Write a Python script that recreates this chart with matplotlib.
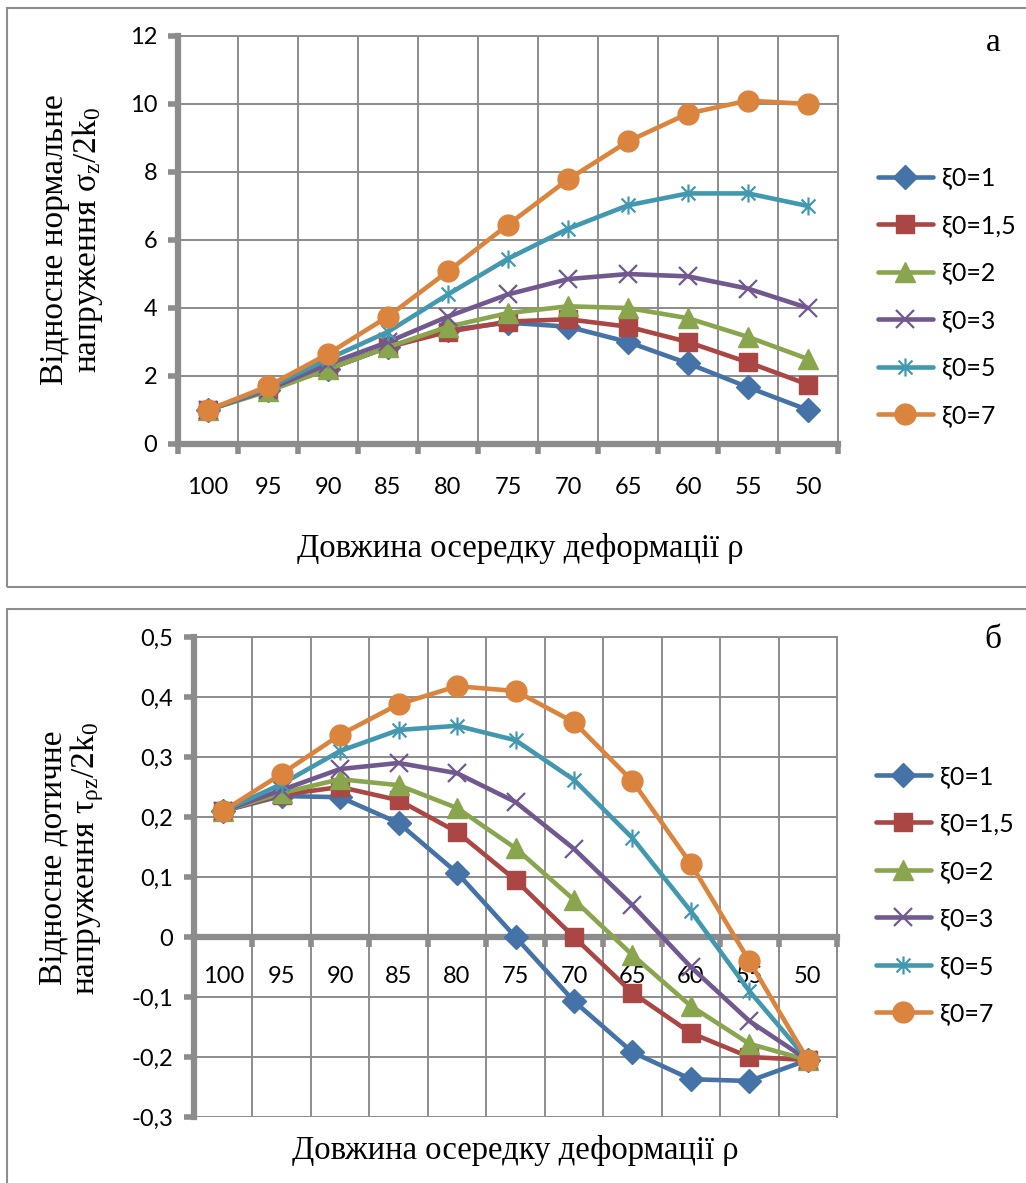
import matplotlib
matplotlib.use('Agg')
from matplotlib import pyplot as plt
from matplotlib.patches import Rectangle
from matplotlib.path import Path
import numpy as np

# дані (зчитані з графіків)
rho = ['100', '95', '90', '85', '80', '75', '70', '65', '60', '55', '50']
labels = ['ξ0=1', 'ξ0=1,5', 'ξ0=2', 'ξ0=3', 'ξ0=5', 'ξ0=7']

sigma_1 = [1.0, 1.6, 2.2, 2.85, 3.35, 3.57, 3.45, 3.0, 2.37, 1.67, 1.0]
sigma_15 = [1.0, 1.6, 2.2, 2.85, 3.3, 3.6, 3.67, 3.45, 3.0, 2.4, 1.75]
sigma_2 = [1.0, 1.55, 2.2, 2.85, 3.45, 3.85, 4.05, 4.0, 3.7, 3.15, 2.5]
sigma_3 = [1.0, 1.6, 2.35, 3.0, 3.75, 4.4, 4.85, 5.0, 4.93, 4.57, 4.0]
sigma_5 = [1.0, 1.65, 2.5, 3.3, 4.4, 5.45, 6.33, 7.02, 7.37, 7.37, 7.0]
sigma_7 = [1.0, 1.7, 2.65, 3.75, 5.08, 6.45, 7.78, 8.9, 9.72, 10.1, 10.0]

tau_1 = [0.21, 0.235, 0.233, 0.19, 0.107, 0.0, -0.107, -0.192, -0.237, -0.24, -0.205]
tau_15 = [0.21, 0.237, 0.25, 0.228, 0.175, 0.095, 0.0, -0.093, -0.16, -0.2, -0.205]
tau_2 = [0.21, 0.24, 0.263, 0.253, 0.215, 0.148, 0.062, -0.03, -0.115, -0.178, -0.205]
tau_3 = [0.21, 0.245, 0.28, 0.29, 0.273, 0.225, 0.147, 0.053, -0.05, -0.14, -0.205]
tau_5 = [0.21, 0.255, 0.31, 0.345, 0.352, 0.328, 0.262, 0.165, 0.043, -0.09, -0.205]
tau_7 = [0.21, 0.272, 0.337, 0.388, 0.418, 0.41, 0.358, 0.26, 0.122, -0.04, -0.205]

sigma = [sigma_1, sigma_15, sigma_2, sigma_3, sigma_5, sigma_7]
tau = [tau_1, tau_15, tau_2, tau_3, tau_5, tau_7]

sigma_ticks = ['0', '2', '4', '6', '8', '10', '12']
tau_ticks = ['-0,3', '-0,2', '-0,1', '0', '0,1', '0,2', '0,3', '0,4', '0,5']

colors = ['#4572A7', '#AA4643', '#89A54E', '#71588F', '#4198AF', '#DB843D']

# маркер-зірочка як в Excel (x + вертикальна риска)
star = Path([(-1, -1), (1, 1), (-1, 1), (1, -1), (0, -1.3), (0, 1.3)],
            [Path.MOVETO, Path.LINETO, Path.MOVETO, Path.LINETO, Path.MOVETO, Path.LINETO])
markers = [('D', 12), ('s', 13), ('^', 14), ('x', 13), (star, 13), ('o', 15)]

GRAY = '#8c8c8c'
SERIF = 'Liberation Serif'
SANS = ['Lato', 'DejaVu Sans']
TICK_FS = 17

plt.rcParams['mathtext.fontset'] = 'custom'
plt.rcParams['mathtext.rm'] = SERIF
plt.rcParams['mathtext.it'] = SERIF + ':italic'

fig = plt.figure(figsize=(10.26, 11.83), dpi=100)

# рамки навколо двох діаграм
fig.patches.append(Rectangle((7 / 1026, 1 - 587 / 1183), 1.1, 579 / 1183,
                             transform=fig.transFigure, fill=False,
                             edgecolor=GRAY, linewidth=1.5))
fig.patches.append(Rectangle((7 / 1026, 1 - 1200 / 1183), 1.1, 591 / 1183,
                             transform=fig.transFigure, fill=False,
                             edgecolor=GRAY, linewidth=1.5))


def draw(ax, data, ylim, yticklabels, label_pad, leg_y, zero_axis=False):
    x = np.arange(len(rho))
    if zero_axis:
        ax.spines['bottom'].set_position(('data', 0))
    for vals, lab, col, (m, ms) in zip(data, labels, colors, markers):
        mfc = 'none' if m == 'x' or isinstance(m, Path) else col
        ax.plot(x, vals, color=col, lw=3.3, marker=m, markersize=ms,
                markerfacecolor=mfc, markeredgecolor=col,
                markeredgewidth=1.6 if mfc == 'none' else 1, label=lab,
                solid_capstyle='round', clip_on=False, zorder=3)
    ax.set_xlim(-0.5, len(rho) - 0.5)
    ax.set_ylim(*ylim)
    ax.set_xticks(x)
    ax.set_xticklabels(rho)
    ax.set_xticks(np.arange(len(rho) + 1) - 0.5, minor=True)
    ax.set_yticks(np.linspace(ylim[0], ylim[1], len(yticklabels)))
    ax.set_yticklabels(yticklabels)
    ax.tick_params(axis='x', which='major', length=0, pad=label_pad,
                   labelsize=TICK_FS, labelfontfamily='Lato')
    ax.tick_params(axis='x', which='minor', length=7, width=4, color=GRAY,
                   direction='out')
    ax.tick_params(axis='y', length=7, width=4, color=GRAY, pad=8,
                   labelsize=TICK_FS, labelfontfamily='Lato')
    ax.grid(True, which='minor', axis='x', color=GRAY, lw=1.4)
    ax.grid(True, which='major', axis='y', color=GRAY, lw=1.4)
    ax.set_axisbelow(True)
    for s in ('left', 'bottom'):
        ax.spines[s].set_color(GRAY)
        ax.spines[s].set_linewidth(4.5)
        ax.spines[s].set_zorder(2.6)
    for s in ('top', 'right'):
        ax.spines[s].set_color(GRAY)
        ax.spines[s].set_linewidth(1.4)
    ax.legend(loc='upper left', bbox_to_anchor=(1.06, leg_y), frameon=False,
              prop={'family': SANS, 'size': 18}, handlelength=2.2,
              labelspacing=0.98, handletextpad=0.36, borderaxespad=0,
              borderpad=0)


# а) нормальні напруження
ax1 = fig.add_axes([178 / 1026, 1 - 444 / 1183, 660 / 1026, 408 / 1183])
draw(ax1, sigma, (0, 12), sigma_ticks, 24, 0.68)

# б) дотичні напруження
ax2 = fig.add_axes([194 / 1026, 1 - 1117 / 1183, 643 / 1026, 480 / 1183])
draw(ax2, tau, (-0.3, 0.5), tau_ticks, 21, 0.734, zero_axis=True)

# підписи осей
fig.text(72 / 1026, 1 - 240 / 1183,
         'Відносне нормальне\nнапруження $\\mathrm{σ_z/2k_0}$',
         rotation=90, ha='center', va='center', family=SERIF, fontsize=24,
         linespacing=1.0)
fig.text(72 / 1026, 1 - 858 / 1183,
         'Відносне дотичне\nнапруження $\\mathrm{τ_{ρz}/2k_0}$',
         rotation=90, ha='center', va='center', family=SERIF, fontsize=24,
         linespacing=1.0)
fig.text(520 / 1026, 1 - 548 / 1183, 'Довжина осередку деформації ρ',
         ha='center', va='center', family=SERIF, fontsize=23.5)
fig.text(515 / 1026, 1 - 1150 / 1183, 'Довжина осередку деформації ρ',
         ha='center', va='center', family=SERIF, fontsize=23.5)
fig.text(993 / 1026, 1 - 43 / 1183, 'а', ha='center', va='center',
         family=SERIF, fontsize=24)
fig.text(993 / 1026, 1 - 640 / 1183, 'б', ha='center', va='center',
         family=SERIF, fontsize=24)

fig.savefig('out.png', dpi=100)
